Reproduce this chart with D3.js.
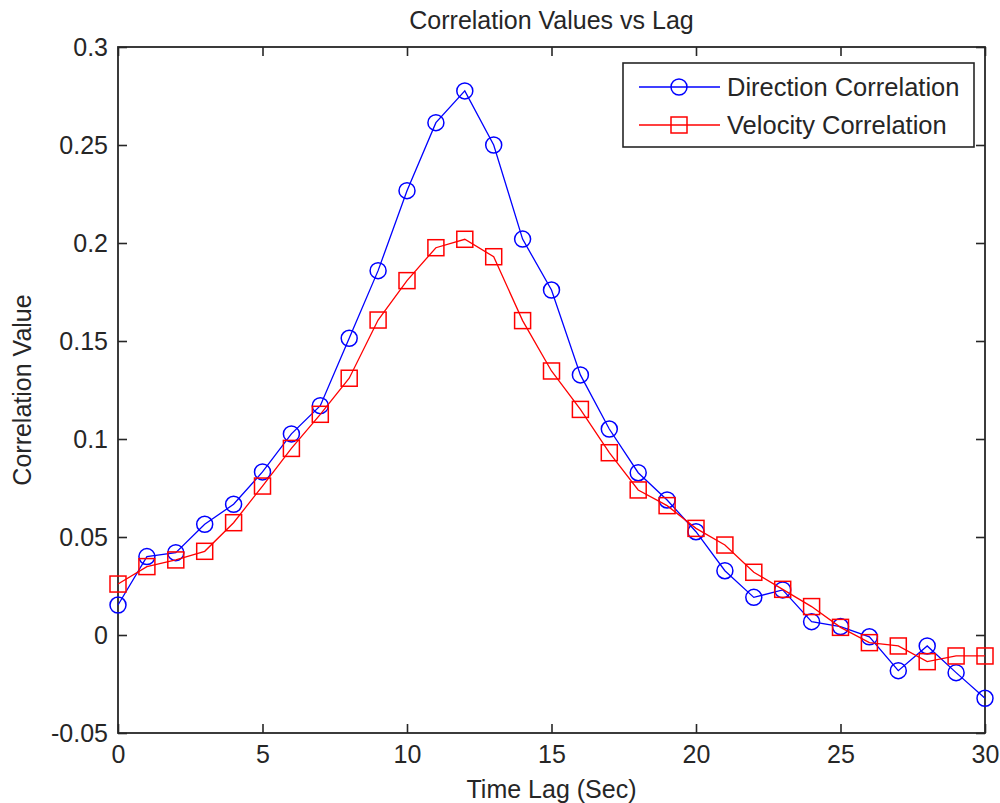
<!DOCTYPE html>
<html>
<head>
<meta charset="utf-8">
<script src="https://cdn.jsdelivr.net/npm/d3@7"></script>
<style>
  html, body { margin: 0; padding: 0; background: #fff; }
  text { font-family: "Liberation Sans", Arial, sans-serif; fill: #262626; }
</style>
</head>
<body>
<svg id="chart" width="1000" height="803"></svg>
<script>
const lags = d3.range(0, 31);
const directionCorr = [0.0153, 0.040, 0.042, 0.0565, 0.0667, 0.0832, 0.1026, 0.117, 0.1514, 0.1859,
  0.2267, 0.2614, 0.2776, 0.250, 0.202, 0.176, 0.1327, 0.1051, 0.0828, 0.0689,
  0.0527, 0.0328, 0.0192, 0.0230, 0.0068, 0.0043, -0.0009, -0.0182, -0.0056, -0.0192, -0.0323];
const velocityCorr = [0.026, 0.0349, 0.0383, 0.0427, 0.0573, 0.076, 0.0952, 0.1126, 0.131, 0.1607,
  0.1808, 0.1976, 0.2019, 0.193, 0.1604, 0.1347, 0.1151, 0.093, 0.074, 0.066,
  0.0544, 0.0459, 0.032, 0.0233, 0.0145, 0.0039, -0.0039, -0.0056, -0.0136, -0.0107, -0.0107];
const xTicks = [0, 5, 10, 15, 20, 25, 30];
const yTicks = [-0.05, 0, 0.05, 0.1, 0.15, 0.2, 0.25, 0.3];
const yTickLabels = ["-0.05", "0", "0.05", "0.1", "0.15", "0.2", "0.25", "0.3"];
const seriesNames = ["Direction Correlation", "Velocity Correlation"];
const seriesColors = ["#0000ff", "#ff0000"];

const svg = d3.select("#chart");
const L = 118, R = 985, T = 47, B = 733;
const x = d3.scaleLinear().domain([0, 30]).range([L, R]);
const y = d3.scaleLinear().domain([-0.05, 0.3]).range([B, T]);
const axisColor = "#262626";
const fs = 25;

svg.append("rect").attr("width", 1000).attr("height", 803).attr("fill", "#fff");

function styleAxis(g) {
  g.select(".domain").remove();
  g.selectAll(".tick line").attr("stroke", axisColor).attr("stroke-width", 1.6);
  g.selectAll("text").style("font-size", fs + "px").attr("fill", axisColor)
    .style("font-family", "'Liberation Sans', Arial, sans-serif");
}
const xAxisB = d3.axisBottom(x).tickValues(xTicks).tickSizeInner(-9).tickSizeOuter(0).tickPadding(12);
svg.append("g").attr("transform", `translate(0,${B})`).call(xAxisB).call(styleAxis);
const xAxisT = d3.axisTop(x).tickValues(xTicks).tickSizeInner(-9).tickSizeOuter(0).tickFormat("");
svg.append("g").attr("transform", `translate(0,${T})`).call(xAxisT).call(styleAxis);
const yAxisL = d3.axisLeft(y).tickValues(yTicks).tickSizeInner(-9).tickSizeOuter(0).tickPadding(10)
  .tickFormat((d, i) => yTickLabels[i]);
svg.append("g").attr("transform", `translate(${L},0)`).call(yAxisL).call(styleAxis);
const yAxisR = d3.axisRight(y).tickValues(yTicks).tickSizeInner(-9).tickSizeOuter(0).tickFormat("");
svg.append("g").attr("transform", `translate(${R},0)`).call(yAxisR).call(styleAxis);

svg.append("rect").attr("x", L).attr("y", T).attr("width", R - L).attr("height", B - T)
  .attr("fill", "none").attr("stroke", axisColor).attr("stroke-width", 1.8);

const line = d3.line().x((d, i) => x(lags[i])).y(d => y(d));
const datasets = [directionCorr, velocityCorr];
datasets.forEach((data, si) => {
  svg.append("path").datum(data).attr("d", line)
    .attr("fill", "none").attr("stroke", seriesColors[si]).attr("stroke-width", 1.3);
  if (si === 0) {
    svg.append("g").selectAll("circle").data(data).join("circle")
      .attr("cx", (d, i) => x(lags[i])).attr("cy", d => y(d)).attr("r", 8)
      .attr("fill", "none").attr("stroke", seriesColors[si]).attr("stroke-width", 1.5);
  } else {
    svg.append("g").selectAll("rect").data(data).join("rect")
      .attr("x", (d, i) => x(lags[i]) - 8).attr("y", d => y(d) - 8)
      .attr("width", 16).attr("height", 16)
      .attr("fill", "none").attr("stroke", seriesColors[si]).attr("stroke-width", 1.5);
  }
});

const lg = svg.append("g");
lg.append("rect").attr("x", 623).attr("y", 63).attr("width", 351).attr("height", 84)
  .attr("fill", "#fff").attr("stroke", axisColor).attr("stroke-width", 1.6);
const rowsY = [87, 125];
seriesNames.forEach((name, i) => {
  const yy = rowsY[i];
  lg.append("line").attr("x1", 639).attr("x2", 720).attr("y1", yy).attr("y2", yy)
    .attr("stroke", seriesColors[i]).attr("stroke-width", 1.3);
  if (i === 0) {
    lg.append("circle").attr("cx", 679).attr("cy", yy).attr("r", 8)
      .attr("fill", "none").attr("stroke", seriesColors[i]).attr("stroke-width", 1.5);
  } else {
    lg.append("rect").attr("x", 671).attr("y", yy - 8).attr("width", 16).attr("height", 16)
      .attr("fill", "none").attr("stroke", seriesColors[i]).attr("stroke-width", 1.5);
  }
  lg.append("text").attr("x", 727).attr("y", yy + 9).style("font-size", "25.5px").text(name);
});

svg.append("text").attr("x", (L + R) / 2).attr("y", 29).attr("text-anchor", "middle")
  .style("font-size", fs + "px").text("Correlation Values vs Lag");
svg.append("text").attr("x", (L + R) / 2).attr("y", 798).attr("text-anchor", "middle")
  .style("font-size", fs + "px").text("Time Lag (Sec)");
svg.append("text").attr("transform", `translate(31,${(T + B) / 2}) rotate(-90)`)
  .attr("text-anchor", "middle").style("font-size", fs + "px").text("Correlation Value");
</script>
</body>
</html>
